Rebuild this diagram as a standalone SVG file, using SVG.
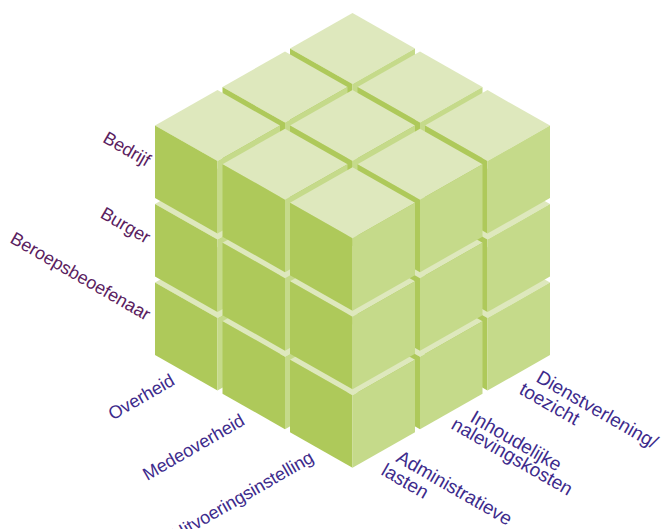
<svg xmlns="http://www.w3.org/2000/svg" width="666" height="529" viewBox="0 0 666 529">
<defs>
<style>
.top{fill:#dee8bd}
.lf{fill:#aec95a}
.rt{fill:#c5da8a}
.lbl{font-family:"Liberation Sans",Arial,sans-serif;font-size:18px}
.r{font-size:19px}
.p{fill:#5a2160}
.b{fill:#3d2b8c}
</style>
<g id="cube">
<polygon class="top" points="0,0 -62.5,-35.5 0,-71 62.5,-35.5"/>
<polygon class="lf" points="0,0 -62.5,-35.5 -62.5,37 0,72.5"/>
<polygon class="rt" points="0,0 62.5,-35.5 62.5,37 0,72.5"/>
</g>
</defs>
<rect width="666" height="529" fill="#ffffff"/>
<g id="cubes">
<use id="c222" href="#cube" x="352.5" y="240.9"/>
<use id="c221" href="#cube" x="352.5" y="162.4"/>
<use id="c212" href="#cube" x="285" y="279.5"/>
<use id="c122" href="#cube" x="420" y="279.5"/>
<use id="c220" href="#cube" x="352.5" y="83.9"/>
<use id="c211" href="#cube" x="285" y="201"/>
<use id="c121" href="#cube" x="420" y="201"/>
<use id="c202" href="#cube" x="217.5" y="318.1"/>
<use id="c022" href="#cube" x="487.5" y="318.1"/>
<use id="c112" href="#cube" x="352.5" y="318.1"/>
<use id="c210" href="#cube" x="285" y="122.5"/>
<use id="c120" href="#cube" x="420" y="122.5"/>
<use id="c201" href="#cube" x="217.5" y="239.6"/>
<use id="c021" href="#cube" x="487.5" y="239.6"/>
<use id="c111" href="#cube" x="352.5" y="239.6"/>
<use id="c102" href="#cube" x="285" y="356.7"/>
<use id="c012" href="#cube" x="420" y="356.7"/>
<use id="c200" href="#cube" x="217.5" y="161.1"/>
<use id="c020" href="#cube" x="487.5" y="161.1"/>
<use id="c110" href="#cube" x="352.5" y="161.1"/>
<use id="c101" href="#cube" x="285" y="278.2"/>
<use id="c011" href="#cube" x="420" y="278.2"/>
<use id="c002" href="#cube" x="352.5" y="395.3"/>
<use id="c100" href="#cube" x="285" y="199.7"/>
<use id="c010" href="#cube" x="420" y="199.7"/>
<use id="c001" href="#cube" x="352.5" y="316.8"/>
<use id="c000" href="#cube" x="352.5" y="238.3"/>
</g>
<g id="connectors"/>
<g id="label-bedrijf"><text class="lbl p" text-anchor="end" transform="translate(146,167) rotate(30)">Bedrijf</text></g>
<g id="label-burger"><text class="lbl p" text-anchor="end" transform="translate(146,244) rotate(30)">Burger</text></g>
<g id="label-beroeps"><text class="lbl p" text-anchor="end" transform="translate(146,321) rotate(30)">Beroepsbeoefenaar</text></g>
<g id="label-overheid"><text class="lbl b" text-anchor="end" transform="translate(176,384) rotate(-30)">Overheid</text></g>
<g id="label-medeoverheid"><text class="lbl b" text-anchor="end" transform="translate(246,424) rotate(-30)">Medeoverheid</text></g>
<g id="label-uitvoering"><text class="lbl b" text-anchor="end" transform="translate(315,461) rotate(-30)">Uitvoeringsinstelling</text></g>
<g id="label-dienst">
<text class="lbl r b" transform="translate(535,381) rotate(30)">Dienstverlening/</text>
<text class="lbl r b" transform="translate(518,393) rotate(30)">toezicht</text>
</g>
<g id="label-inhoud">
<text class="lbl r b" transform="translate(469,421) rotate(30)">Inhoudelijke</text>
<text class="lbl r b" transform="translate(450,428) rotate(30)">nalevingskosten</text>
</g>
<g id="label-admin">
<text class="lbl r b" transform="translate(395,461) rotate(30)">Administratieve</text>
<text class="lbl r b" transform="translate(380,474) rotate(30)">lasten</text>
</g>
</svg>
